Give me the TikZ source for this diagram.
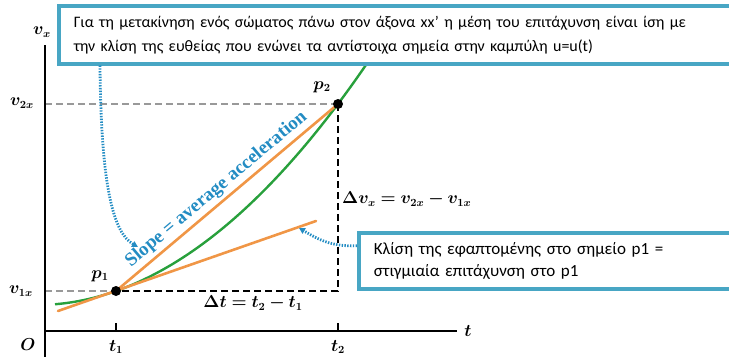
\documentclass[tikz,border=0pt]{standalone}
\usepackage{amsmath,bm}
\usepackage{fontspec}
\usepackage{tikz}
\usetikzlibrary{arrows.meta,positioning,calc}
\newfontfamily\notefont{Carlito}
\newfontfamily\slopefont{Liberation Serif}
\definecolor{boxblue}{RGB}{72,166,196}
\definecolor{slopeblue}{RGB}{35,140,195}
\definecolor{curvegreen}{RGB}{40,160,60}
\definecolor{tanorange}{RGB}{240,150,70}

\begin{document}
\begin{tikzpicture}[
  x=1pt, y=-1pt,
  axis/.style={line width=1.6pt},
  guide/.style={draw=gray!80, line width=1.2pt, dash pattern=on 7pt off 4pt},
  drop/.style={draw=black, line width=1.4pt, dash pattern=on 7pt off 4pt},
  curve/.style={draw=curvegreen, line width=2.4pt},
  secant/.style={draw=tanorange, line width=2.6pt, line cap=round},
  hint/.style={draw=slopeblue, line width=2.8pt, dash pattern=on 1.4pt off 1.4pt, -{Triangle[length=6pt,width=6pt]}},
  notebox/.style={draw=boxblue, line width=3.5pt, fill=white, anchor=north west, align=left,
    inner xsep=15pt},
  lbl/.style={font=\fontsize{16}{16}\selectfont, inner sep=1pt},
  dot/.style={circle, fill=black, inner sep=0pt, minimum size=10pt},
]
\useasboundingbox (0,0) rectangle (729,357);
\clip (0,0) rectangle (729,357);
\coordinate (O) at (45,331);
\coordinate (vtop) at (45,45);
\coordinate (vbot) at (45,357);
\coordinate (tend) at (457,331);
\coordinate (p1) at (116,291);
\coordinate (p2) at (338,104);
\coordinate (tanstart) at (58,311);
\coordinate (tanend) at (316,221);
\coordinate (slopehead) at (138,247);
\coordinate (tanhead) at (299,228);

\draw[guide] (O |- p2) -- (p2);
\draw[guide] (O |- p1) -- (p1);
\draw[drop] (p2) -- (p2 |- p1) -- (p1);

\draw[curve] plot[domain=-0.61:2.56, samples=60, smooth] ({116+100*\x}, {291-35.2*\x-22.1*\x*\x});
\draw[secant] (p1) -- (p2);
\draw[secant] (tanstart) -- (tanend);

\node[dot] (dotp1) at (p1) {};
\node[dot] (dotp2) at (p2) {};

\draw[axis] (vtop) -- (vbot);
\draw[axis] (O -| vtop) -- (tend);
\draw[axis] (p1 |- O) -- ++(0,-8);
\draw[axis] (p2 |- O) -- ++(0,-8);

\node[lbl] (vxlab) at (42,32) {$\bm{v_x}$};
\node[lbl] (olab) at (28,345) {$\bm{O}$};
\node[lbl] (t1lab) at (116,347) {$\bm{t_1}$};
\node[lbl] (t2lab) at (338,347) {$\bm{t_2}$};
\node[lbl] (tlab) at (468,331) {$\bm{t}$};
\node[lbl] (v2lab) at (22,103) {$\bm{v_{2x}}$};
\node[lbl] (v1lab) at (21,291) {$\bm{v_{1x}}$};
\node[lbl] (p2lab) at (322,87) {$\bm{p_2}$};
\node[lbl] (p1lab) at (100,276) {$\bm{p_1}$};
\node[lbl] (dtlab) at (253,303) {$\bm{\Delta t = t_2 - t_1}$};
\node[lbl, anchor=west] (dvlab) at (341,199) {$\bm{\Delta v_x = v_{2x} - v_{1x}}$};

\path (p1) -- (p2) node[pos=0.49, sloped, above=3pt, text=slopeblue, inner sep=1pt,
  font=\slopefont\bfseries\fontsize{19}{19}\selectfont] (slopelab) {Slope = average acceleration};

\node[notebox, text width=690pt, minimum height=58pt,
  font=\notefont\fontsize{16}{24}\selectfont] (topnote) at (57,4)
  {Για τη μετακίνηση ενός σώματος πάνω στον άξονα xx’ η μέση του επιτάχυνση είναι ίση με\\
   την κλίση της ευθείας που ενώνει τα αντίστοιχα σημεία στην καμπύλη u=u(t)};
\node[notebox, text width=400pt, minimum height=56pt,
  font=\notefont\fontsize{17}{22}\selectfont] (tipnote) at (357,231)
  {Κλίση της εφαπτομένης στο σημείο p1 =\\στιγμιαία επιτάχυνση στο p1};

\draw[hint] ([xshift=43pt]topnote.south west) .. controls (101,190) and (114,233) .. (slopehead);
\draw[hint] ([yshift=15pt]tipnote.west) .. controls (330,247) and (316,238) .. (tanhead);
\end{tikzpicture}
\end{document}
